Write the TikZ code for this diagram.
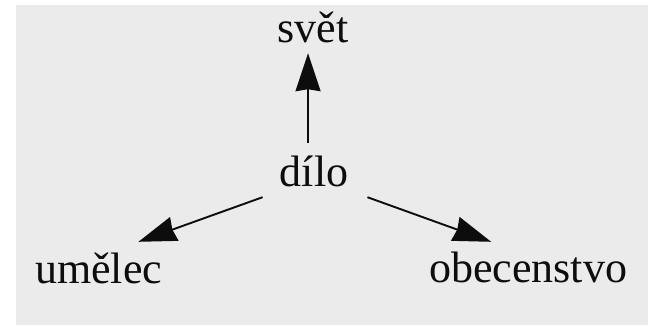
\documentclass[tikz,border=0pt]{standalone}
\usepackage{fontspec}
\setmainfont{Liberation Serif}
\usetikzlibrary{arrows.meta}
\definecolor{paper}{gray}{0.92}
\definecolor{ink}{gray}{0.05}
\begin{document}
\begin{tikzpicture}[x=1pt,y=-1pt,
  word/.style={font=\fontsize{44}{44}\selectfont, text=ink, inner sep=0pt, text height=30pt, text depth=0pt, anchor=base},
  arr/.style={draw=ink, line width=1.9pt, -{Stealth[length=38pt,width=25pt,inset=2pt]}}]
\fill[white] (0,0) rectangle (648,325);
\fill[paper] (16,5) rectangle (648,325);
\useasboundingbox (0,0) rectangle (648,325);
\node[word] (svet) at (313,42) {svět};
\node[word] (dilo) at (314,186) {dílo};
\node[word, anchor=base west] (umelec) at (35,283) {umělec};
\node[word, anchor=base west] (obec) at (429,282) {obecenstvo};
\draw[arr] ([shift={(-6,-13)}]dilo.north) -- ([shift={(-5,11)}]svet.south);
\draw[arr] ([shift={(-17,11)}]dilo.south west) -- ([shift={(-24,-11)}]umelec.north east);
\draw[arr] ([shift={(19,11)}]dilo.south east) -- ([shift={(-37,-10)}]obec.north);
\end{tikzpicture}
\end{document}
